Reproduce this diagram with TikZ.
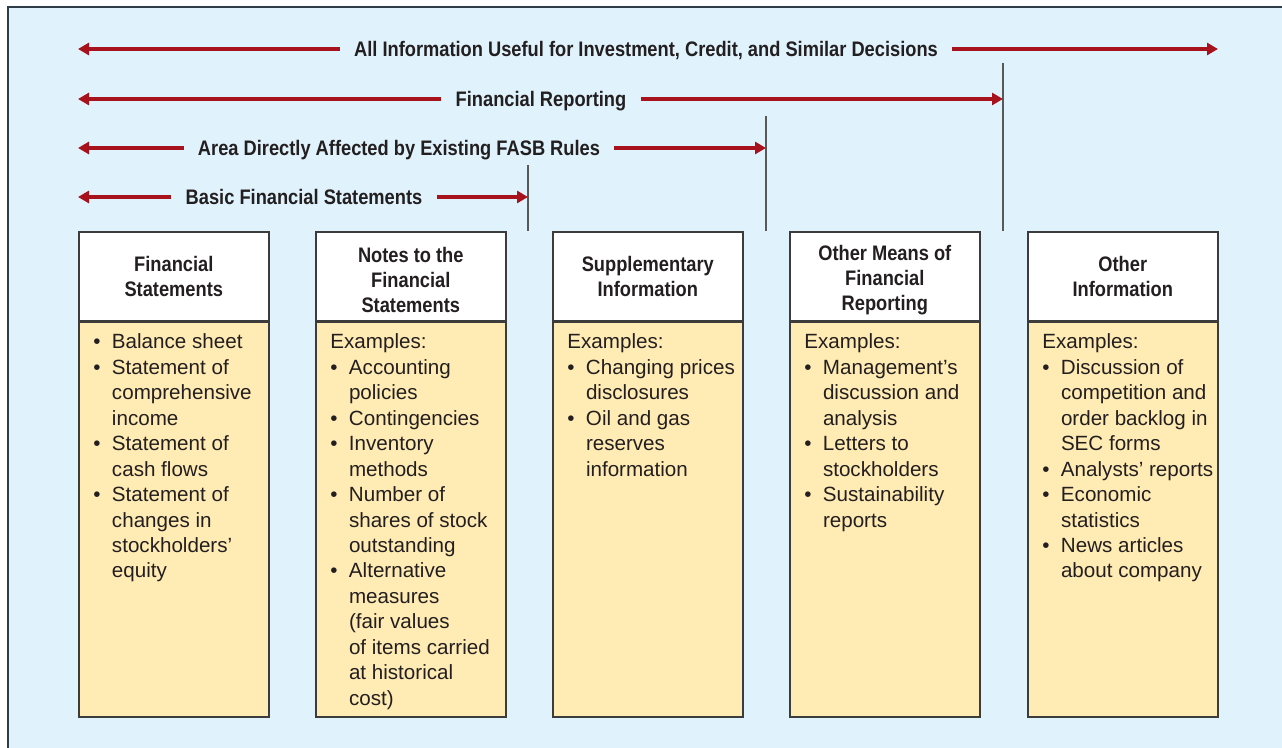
\documentclass[tikz,border=0pt]{standalone}
\usepackage{fontspec}
\setmainfont{Liberation Sans}
\newfontfamily\headfont[FakeStretch=0.87]{Liberation Sans}
\usetikzlibrary{arrows.meta}

\definecolor{bgblue}{HTML}{E0F2FC}
\definecolor{barred}{HTML}{A8121C}
\definecolor{notepad}{HTML}{FFEBB3}
\definecolor{edge}{HTML}{3C3C3C}
\definecolor{frame}{HTML}{2E3D48}
\definecolor{ink}{HTML}{231F20}

\newcommand\bitem{\makebox[9.3pt][l]{\textbullet}}
\newcommand\bcont{\hspace*{9.3pt}}
\newcommand\topstrut{\rule{0pt}{11pt}}

\tikzset{
  span/.style={draw=barred, line width=1.8pt, -{Triangle[length=5.5pt,width=6pt]}},
  spanlabel/.style={font=\headfont\bfseries\fontsize{10.5}{12}\selectfont, text=ink,
    anchor=base, inner xsep=7pt, inner ysep=0pt},
  cut/.style={draw=edge!85, line width=0.7pt},
  headbox/.style={draw=edge, fill=white, line width=0.8pt, anchor=north west,
    minimum width=95pt, minimum height=44.5pt, inner ysep=1pt, align=center, text=ink,
    font=\headfont\bfseries\fontsize{10.5}{12.5}\selectfont},
  bodybox/.style={draw=edge, fill=notepad, line width=0.8pt, anchor=north west,
    minimum width=95pt, minimum height=197.2pt},
  bodytext/.style={anchor=north west, inner sep=0pt, align=left, text=ink,
    font=\fontsize{10.3}{12.72}\selectfont}
}

\begin{document}
\begin{tikzpicture}[x=0.5pt,y=-0.5pt]
\useasboundingbox (0,0) rectangle (1282,748);

% background and frame
\fill[bgblue] (8,7) rectangle (1282,748);
\draw[frame, line width=1.3pt] (8,748) -- (8,7) -- (1282,7);

% boxes
\node[headbox] (h1) at (78,231) {Financial\\Statements};
\node[bodybox] (b1) at (h1.south west) {};
\node[bodytext] (t1) at ([shift={(7.5pt,-6pt)}]b1.north west)
  {\bitem Balance sheet\\ \bitem Statement of\\ \bcont comprehensive\\ \bcont income\\
   \bitem Statement of\\ \bcont cash flows\\ \bitem Statement of\\ \bcont changes in\\
   \bcont stockholders’\\ \bcont equity};

\node[headbox] (h2) at (315,231) {\topstrut Notes to the\\Financial\\Statements};
\node[bodybox] (b2) at (h2.south west) {};
\node[bodytext] (t2) at ([shift={(7.5pt,-6pt)}]b2.north west)
  {Examples:\\ \bitem Accounting\\ \bcont policies\\ \bitem Contingencies\\
   \bitem Inventory\\ \bcont methods\\ \bitem Number of\\ \bcont shares of stock\\
   \bcont outstanding\\ \bitem Alternative\\ \bcont measures\\ \bcont (fair values\\
   \bcont of items carried\\ \bcont at historical\\ \bcont cost)};

\node[headbox] (h3) at (552,231) {Supplementary\\Information};
\node[bodybox] (b3) at (h3.south west) {};
\node[bodytext] (t3) at ([shift={(7.5pt,-6pt)}]b3.north west)
  {Examples:\\ \bitem Changing prices\\ \bcont disclosures\\ \bitem Oil and gas\\
   \bcont reserves\\ \bcont information};

\node[headbox] (h4) at (789,231) {\topstrut Other Means of\\Financial\\Reporting};
\node[bodybox] (b4) at (h4.south west) {};
\node[bodytext] (t4) at ([shift={(7.5pt,-6pt)}]b4.north west)
  {Examples:\\ \bitem Management’s\\ \bcont discussion and\\ \bcont analysis\\
   \bitem Letters to\\ \bcont stockholders\\ \bitem Sustainability\\ \bcont reports};

\node[headbox] (h5) at (1027,231) {Other\\Information};
\node[bodybox] (b5) at (h5.south west) {};
\node[bodytext] (t5) at ([shift={(7.5pt,-6pt)}]b5.north west)
  {Examples:\\ \bitem Discussion of\\ \bcont competition and\\ \bcont order backlog in\\
   \bcont SEC forms\\ \bitem Analysts’ reports\\ \bitem Economic\\ \bcont statistics\\
   \bitem News articles\\ \bcont about company};

% dividing lines
\coordinate (cutA) at (528,165);
\coordinate (cutB) at (766,116);
\coordinate (cutC) at (1003,63);
\draw[cut] (cutA) -- (cutA |- h3.north);
\draw[cut] (cutB) -- (cutB |- h4.north);
\draw[cut] (cutC) -- (cutC |- h5.north);

% spans
\coordinate (allL) at (78,49);
\coordinate (allR) at (1218,49);
\node[spanlabel] (all) at (646,57) {All Information Useful for Investment, Credit, and Similar Decisions};
\draw[span] (all.west |- allL) -- (allL);
\draw[span] (all.east |- allR) -- (allR);

\coordinate (repL) at (78,99);
\coordinate (repR) at (cutC |- repL);
\node[spanlabel] (rep) at (541,106.5) {Financial Reporting};
\draw[span] (rep.west |- repL) -- (repL);
\draw[span] (rep.east |- repR) -- (repR);

\coordinate (fasbL) at (78,148);
\coordinate (fasbR) at (cutB |- fasbL);
\node[spanlabel] (fasb) at (399,155.5) {Area Directly Affected by Existing FASB Rules};
\draw[span] (fasb.west |- fasbL) -- (fasbL);
\draw[span] (fasb.east |- fasbR) -- (fasbR);

\coordinate (basL) at (78,197);
\coordinate (basR) at (cutA |- basL);
\node[spanlabel] (bas) at (304,204.5) {Basic Financial Statements};
\draw[span] (bas.west |- basL) -- (basL);
\draw[span] (bas.east |- basR) -- (basR);

\end{tikzpicture}
\end{document}
